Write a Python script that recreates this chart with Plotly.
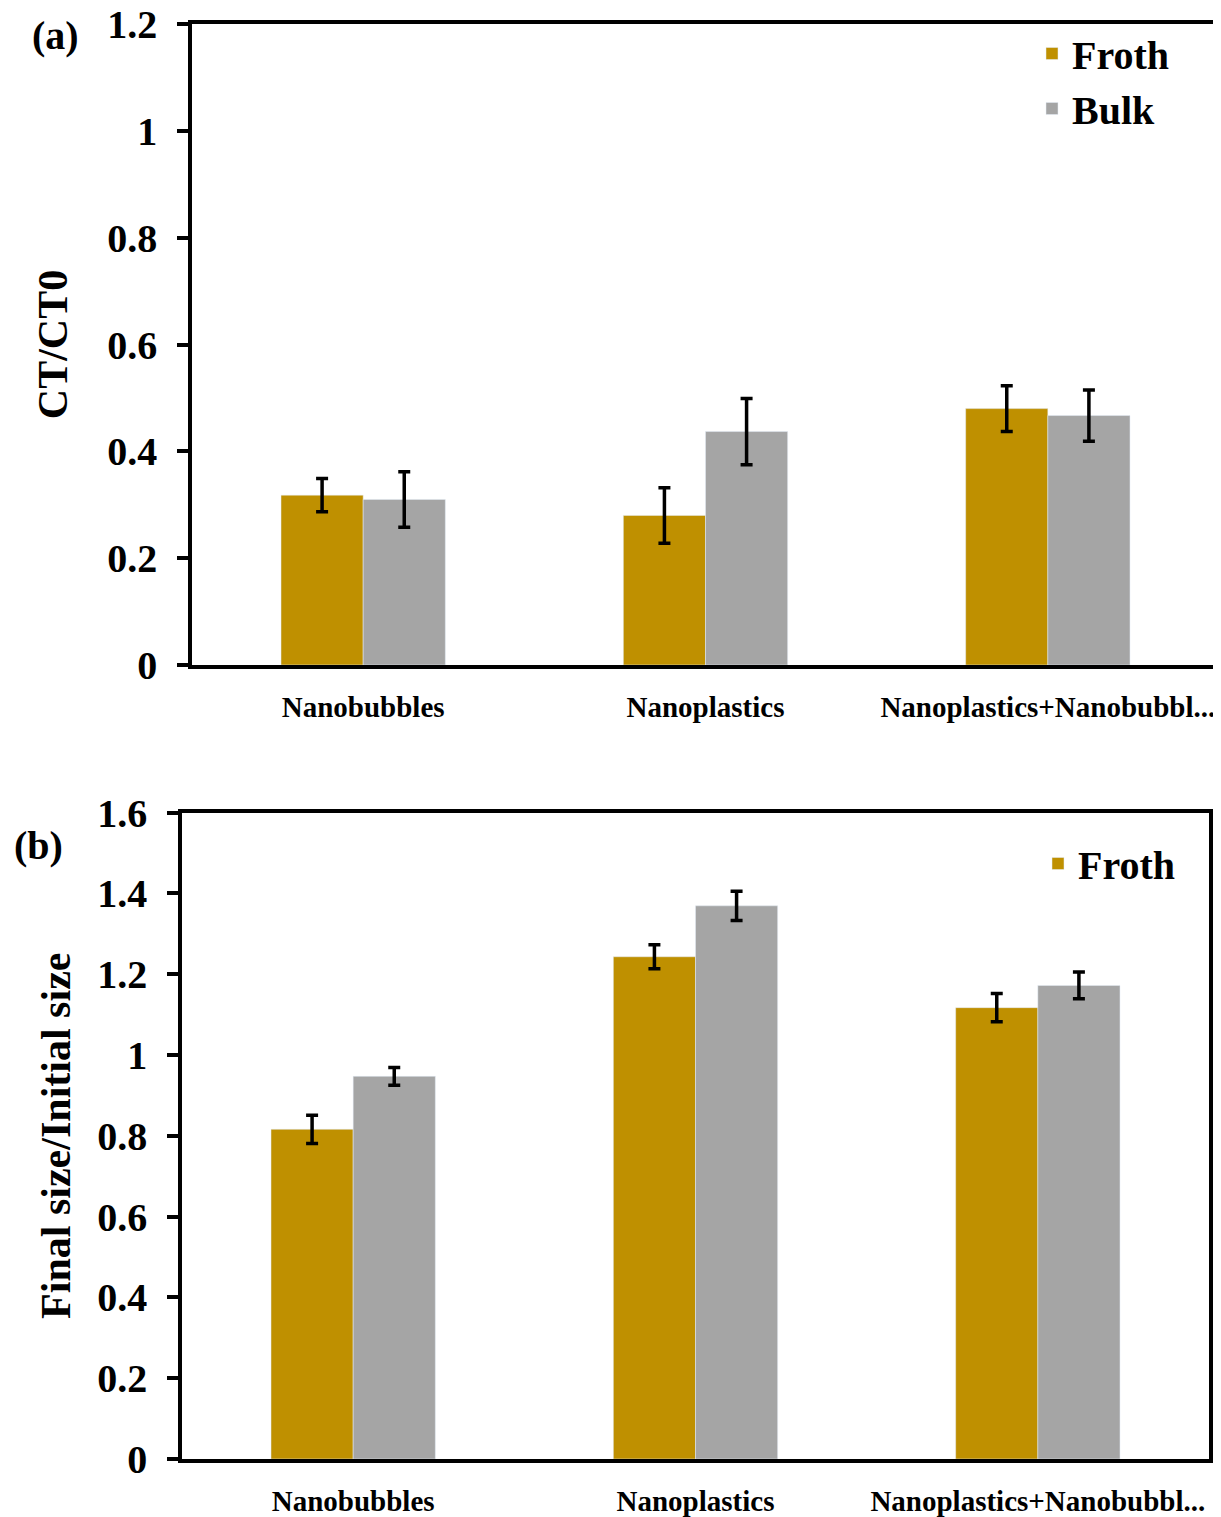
import plotly.graph_objects as go

categories = ["Nanobubbles", "Nanoplastics", "Nanoplastics+Nanobubbl..."]

# Panel (a): CT/CT0
a_froth = [0.318, 0.280, 0.480]
a_froth_err = [0.031, 0.052, 0.043]
a_bulk = [0.310, 0.437, 0.467]
a_bulk_err = [0.052, 0.062, 0.048]

# Panel (b): Final size / Initial size
b_froth = [0.816, 1.243, 1.117]
b_froth_err = [0.035, 0.030, 0.035]
b_bulk = [0.947, 1.369, 1.172]
b_bulk_err = [0.022, 0.036, 0.033]

a_ticks = [0, 0.2, 0.4, 0.6, 0.8, 1, 1.2]
a_ticklabels = ["0", "0.2", "0.4", "0.6", "0.8", "1", "1.2"]
b_ticks = [0, 0.2, 0.4, 0.6, 0.8, 1, 1.2, 1.4, 1.6]
b_ticklabels = ["0", "0.2", "0.4", "0.6", "0.8", "1", "1.2", "1.4", "1.6"]

GOLD = "#BF9000"
GRAY = "#A5A5A5"
FONT = "Liberation Serif, Times New Roman, serif"

OFF = 8  # page body margin
W, H = 1221 - OFF, 1517 - OFF


def px(x):
    return (x - OFF) / W


def py(y):
    return 1 - (y - OFF) / H


def err(vals):
    return dict(type="data", array=vals, visible=True, color="black", thickness=3.5, width=6)


fig = go.Figure()
fig.add_trace(go.Bar(x=categories, y=a_froth, name="Froth", marker_color=GOLD,
                     error_y=err(a_froth_err), xaxis="x", yaxis="y", legend="legend"))
fig.add_trace(go.Bar(x=categories, y=a_bulk, name="Bulk", marker_color=GRAY,
                     error_y=err(a_bulk_err), xaxis="x", yaxis="y", legend="legend"))
fig.add_trace(go.Bar(x=categories, y=b_froth, name="Froth", marker_color=GOLD,
                     error_y=err(b_froth_err), xaxis="x2", yaxis="y2", legend="legend2"))
fig.add_trace(go.Bar(x=categories, y=b_bulk, name="Bulk", marker_color=GRAY,
                     error_y=err(b_bulk_err), xaxis="x2", yaxis="y2", legend="legend2",
                     showlegend=False))

tickfont = dict(family=FONT, size=40, color="black", weight="bold")
catfont = dict(family=FONT, size=29, color="black", weight="bold")
titlefont = dict(family=FONT, size=42, color="black", weight="bold")
legfont = dict(family=FONT, size=40, color="black", weight="bold")

common_x = dict(showline=True, linecolor="black", linewidth=3.5, mirror=True,
                ticks="", showgrid=False, tickfont=catfont, automargin=False,
                range=[-0.5, 2.5], ticklabelstandoff=13, ticklabeloverflow="allow")
common_y = dict(showline=True, linecolor="black", linewidth=3.5, mirror=True,
                ticks="outside", ticklen=11, tickwidth=3.5, tickcolor="black",
                showgrid=False, zeroline=False, tickfont=tickfont, automargin=False,
                ticklabelstandoff=12, ticklabeloverflow="allow")

fig.update_layout(
    width=W, height=H,
    margin=dict(l=0, r=0, t=0, b=0),
    paper_bgcolor="white", plot_bgcolor="white",
    barmode="group", bargap=0.52, bargroupgap=0,
    xaxis=dict(domain=[px(192), px(1219)], anchor="y", **common_x),
    yaxis=dict(domain=[py(665), py(24)], anchor="x", range=[0, 1.2],
               tickvals=a_ticks, ticktext=a_ticklabels,
               title=dict(text="CT/CT0", font=titlefont, standoff=28), **common_y),
    xaxis2=dict(domain=[px(182), px(1209)], anchor="y2", **common_x),
    yaxis2=dict(domain=[py(1459), py(812.5)], anchor="x2", range=[0, 1.6],
                tickvals=b_ticks, ticktext=b_ticklabels,
                title=dict(text="Final size/Initial size", font=titlefont, standoff=15), **common_y),
    legend=dict(x=px(1032), y=py(21), xanchor="left", yanchor="top",
                font=legfont, bgcolor="rgba(0,0,0,0)", tracegroupgap=0),
    legend2=dict(x=px(1038), y=py(831), xanchor="left", yanchor="top",
                 font=legfont, bgcolor="rgba(0,0,0,0)"),
    showlegend=True,
    annotations=[
        dict(text="(a)", x=px(55), y=py(35), xref="paper", yref="paper",
             xanchor="center", yanchor="middle", showarrow=False,
             font=dict(family=FONT, size=40, color="black", weight="bold")),
        dict(text="(b)", x=px(38), y=py(845), xref="paper", yref="paper",
             xanchor="center", yanchor="middle", showarrow=False,
             font=dict(family=FONT, size=40, color="black", weight="bold")),
    ],
)

fig.write_html("out.html")
